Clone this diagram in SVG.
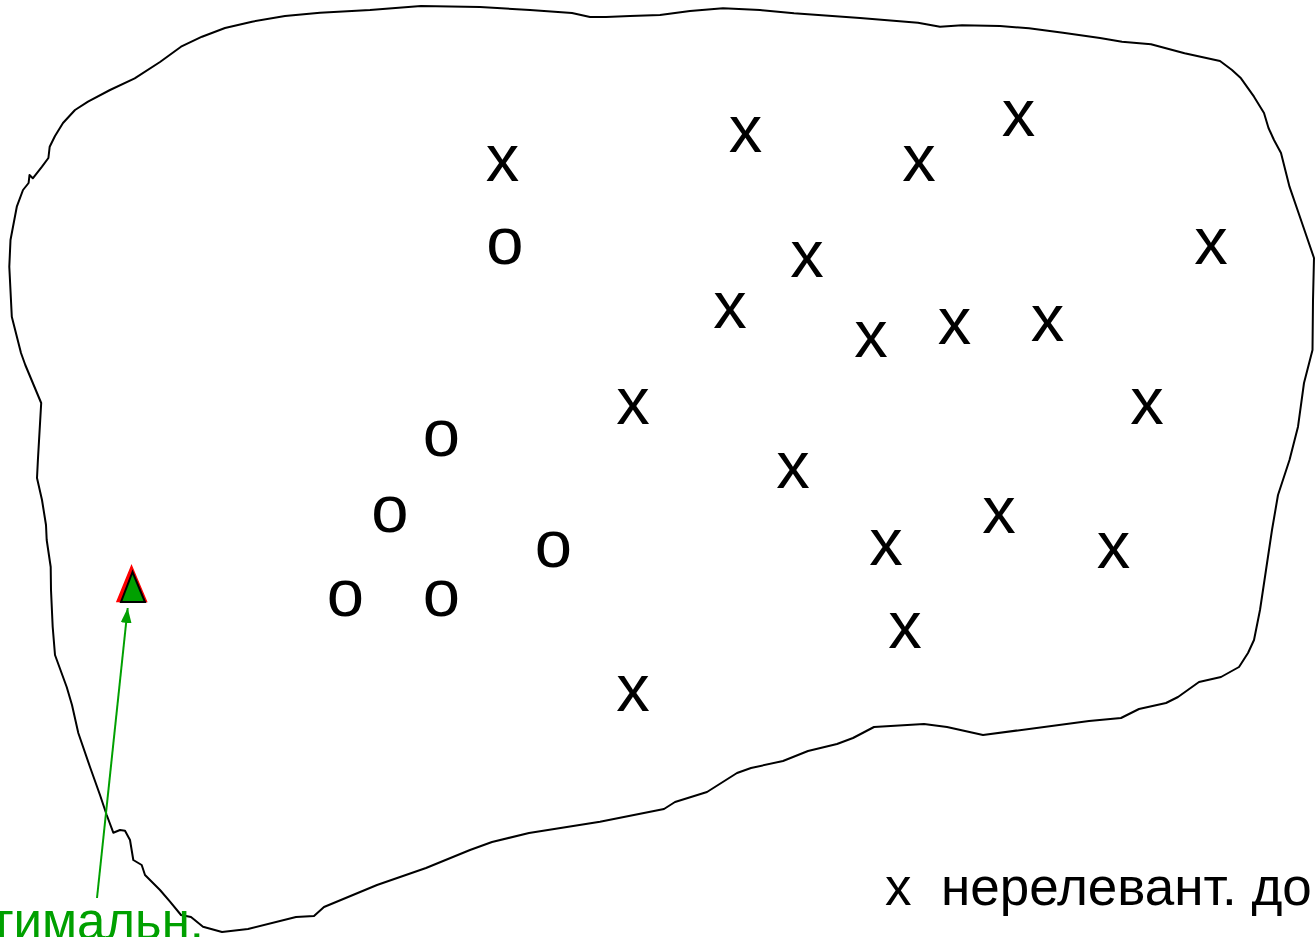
<svg xmlns="http://www.w3.org/2000/svg" width="1316" height="937" viewBox="0 0 1316 937">
<style>
.m{font-family:"Liberation Sans",Arial,sans-serif;font-size:67px;fill:#000;text-anchor:middle}
.lbl{font-family:"Liberation Sans",Arial,sans-serif;white-space:pre}
.outline{fill:none;stroke:#000;stroke-width:2;stroke-linejoin:round}
</style>
<defs>
<marker id="ah" markerUnits="userSpaceOnUse" markerWidth="16" markerHeight="12" refX="15" refY="5.5" orient="auto">
<path d="M0,0 L15,5.5 L0,11 z" fill="#00a000"/>
</marker>
</defs>
<rect width="1316" height="937" fill="#fff"/>
<g id="region">
<path class="outline" d="M48.4,158 L49.7,146.7 L55,136 L63,123 L75,110 L88,101.7 L110,90 L134.7,78.3 L160,62 L181,46.7 L202,36.7 L225,28 L252,21.7 L285,16 L320,12.7 L370,10 L421,6 L480,7 L530,10 L572,13 L590,17 L606,17 L630,16 L660,15 L690,11 L723,8.3 L760,10 L794,13.3 L860,18 L918,22.7 L940,26.7 L962,25.3 L1000,26 L1029,28.3 L1063,32.7 L1100,38 L1122,41.7 L1151,44.3 L1184.6,53.3 L1220,61 L1232,70 L1241,78.3 L1254,96.7 L1264,113 L1268.5,128 L1274,140 L1281,153 L1289.5,186.7 L1302,223 L1314,258 L1313,300 L1312.5,350 L1304,383 L1298,426.7 L1289.5,460 L1278,495 L1272,530 L1266,570 L1260,610 L1254,640 L1248,653 L1239,667 L1221,677 L1199,682 L1178,697 L1166,703 L1139,709 L1121,718 L1089,721 L983,735 L947,727 L924,724 L874,727 L853,738 L837,744 L808,751 L783,761 L751,768 L737,773 L707,792 L675,802 L664,809 L600,821.7 L529,833 L492,842 L470,850 L426,868 L377,885 L324,907 L314,916 L296,917 L248,929 L222,932 L203,926.7 L191,917 L181,915 L170,901.7 L160,890 L145,875 L141.7,865 L133.3,860 L130,840 L125,830.7 L120,830 L113.3,832.7 L106.7,815 L100,795 L90,767 L78.3,733 L72,705 L66.7,687 L55,655 L52.7,627 L51,590 L50.7,567 L46.7,540 L46,525 L42,500 L37,478 L37.9,460 L41.2,403 L25.3,365 L21,353 L11.8,316.7 L9.3,266.7 L10.5,240 L16.8,206.7 L23,190 L28.6,183 L29.5,175 L32.8,178.3 L42,166.7 Z"/>
</g>
<g id="irrelevant">
<text class="m" x="502.5" y="181">x</text>
<text class="m" x="745.5" y="152">x</text>
<text class="m" x="919" y="181">x</text>
<text class="m" x="1018.5" y="136">x</text>
<text class="m" x="807" y="277">x</text>
<text class="m" x="1211" y="264">x</text>
<text class="m" x="730" y="328">x</text>
<text class="m" x="871" y="357">x</text>
<text class="m" x="954.5" y="344">x</text>
<text class="m" x="1047.5" y="341">x</text>
<text class="m" x="633" y="424">x</text>
<text class="m" x="1147" y="424">x</text>
<text class="m" x="793" y="488">x</text>
<text class="m" x="999" y="533">x</text>
<text class="m" x="886" y="565">x</text>
<text class="m" x="1113.5" y="568">x</text>
<text class="m" x="905" y="648">x</text>
<text class="m" x="633" y="711">x</text>
</g>
<g id="relevant">
<text class="m" x="505" y="264">o</text>
<text class="m" x="441.5" y="456">o</text>
<text class="m" x="390" y="532">o</text>
<text class="m" x="553.5" y="567">o</text>
<text class="m" x="345.5" y="616">o</text>
<text class="m" x="441.5" y="616">o</text>
</g>
<g id="optimum">
<polygon points="131.5,566 117,601.5 146.5,601.5" fill="#f00" stroke="#f00" stroke-width="1.5"/>
<polygon points="132.5,572 121,602 145,602" fill="#00a000" stroke="#000" stroke-width="2" stroke-linejoin="miter"/>
</g>
<g id="connectors">
<line x1="97" y1="898" x2="127.7" y2="608" stroke="#00a000" stroke-width="2" marker-end="url(#ah)"/>
</g>
<g id="label-optimal">
<text class="lbl" x="204" y="938.5" font-size="51" fill="#00a000" text-anchor="end">тимальн.</text>
</g>
<g id="legend">
<text class="lbl" x="885" y="905" font-size="53" fill="#000">x  нерелевант. до</text>
</g>
</svg>
